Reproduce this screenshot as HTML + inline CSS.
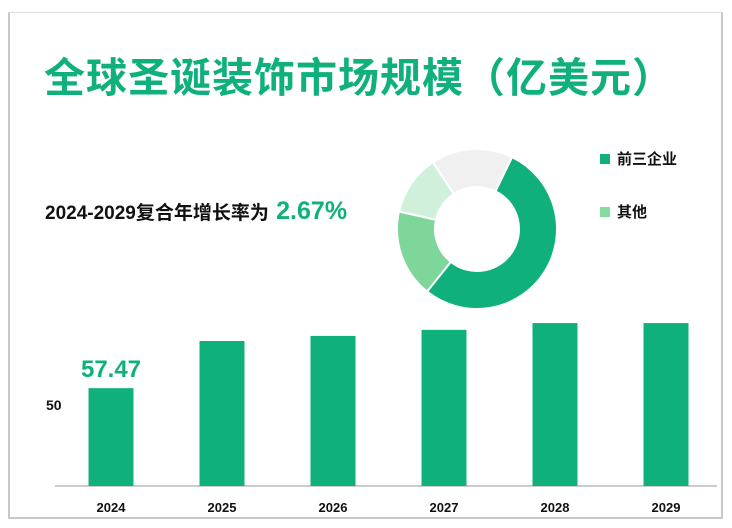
<!DOCTYPE html>
<html><head><meta charset="utf-8"><style>
body{margin:0;width:732px;height:528px;background:#fff;font-family:"Liberation Sans","Noto Sans CJK SC",sans-serif;position:relative;overflow:hidden}
.frame{position:absolute;left:8px;top:12px;width:715px;height:507px;border:2px solid #c8c8c8;border-top:1px solid #ddd;box-sizing:border-box}
.title{position:absolute;left:44px;top:44px;font-size:41px;font-weight:bold;color:#0fb07c;letter-spacing:1px;white-space:nowrap}
.cagr{position:absolute;left:45px;top:197px;font-size:19px;font-weight:bold;color:#111;white-space:nowrap}
.cagr span{color:#0fb07c;font-size:25px;margin-left:2px}
.leg{position:absolute;font-size:15px;font-weight:bold;color:#111}
.leg i{display:inline-block;width:10px;height:10px;margin-right:7px}
</style></head><body>
<div class="frame"></div>
<div class="title">全球圣诞装饰市场规模（亿美元）</div>
<div class="cagr">2024-2029复合年增长率为 <span>2.67%</span></div>
<div class="leg" style="left:600px;top:148px"><i style="background:#0fb07c"></i>前三企业</div>
<div class="leg" style="left:600px;top:201px"><i style="background:#86dba0"></i>其他</div>
<svg id="c" width="732" height="528" style="position:absolute;left:0;top:0"></svg>
<script>
const years=["2024","2025","2026","2027","2028","2029"];
const values=[57.47,64.45,65.2,66.1,67.1,67.1];
const labels=["57.47","","","","",""];
const pieShares=[0.535,0.178,0.122,0.165];
const pieNames=["top3-a","other-a","other-b","other-c"];
const pieColors=["#0fb07c","#7fd69a","#d0f0dc","#f0f0f0"];
const NS="http://www.w3.org/2000/svg";
const svg=document.getElementById('c');
function mk(t,a){const e=document.createElementNS(NS,t);for(const k in a)e.setAttribute(k,a[k]);svg.appendChild(e);return e;}
const base=486,vmin=43,k=6.76;
const y=v=>base-(v-vmin)*k;
const x=i=>111+i*111;
const bw=45;
const ax=mk('line',{x1:55,x2:717,y1:base,y2:base,stroke:'#999','stroke-width':1});

values.forEach((v,i)=>{
 const r=mk('rect',{x:x(i)-bw/2,y:y(v),width:bw,height:base-y(v),fill:'#0fb07c'});
 
 
 const t=mk('text',{x:x(i),y:512,'text-anchor':'middle','font-size':13,'font-weight':'bold',fill:'#111'});
 t.textContent=years[i];
 
 
 if(labels[i]){const l=mk('text',{x:x(i),y:y(v)-11,'text-anchor':'middle','font-size':24,'font-weight':'bold',fill:'#0fb07c'});
 l.textContent=labels[i];
 
 }
});
const yt=mk('text',{x:46,y:410,'font-size':14,'font-weight':'bold',fill:'#111'});
yt.textContent="50";


const cx=477,cy=229,R=80,r0=42;let a=26*Math.PI/180;
function pt(rad,ang){return [cx+rad*Math.sin(ang),cy-rad*Math.cos(ang)];}
pieShares.forEach((s,i)=>{
 const a2=a+s*2*Math.PI,lg=s>0.5?1:0;
 const p1=pt(R,a),p2=pt(R,a2),p3=pt(r0,a2),p4=pt(r0,a);
 const p=mk('path',{d:`M${p1}A${R},${R} 0 ${lg} 1 ${p2}L${p3}A${r0},${r0} 0 ${lg} 0 ${p4}Z`,fill:pieColors[i],stroke:'#fff','stroke-width':2});
 
 
 a=a2;
});
</script>
</body></html>
